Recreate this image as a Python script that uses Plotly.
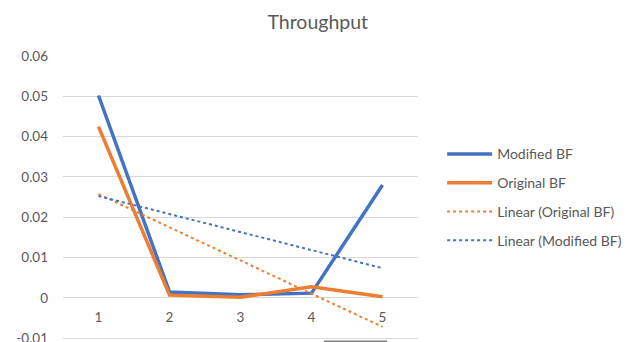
import numpy as np
import plotly.graph_objects as go

categories = [1, 2, 3, 4, 5]
modified_bf = [0.0502, 0.0015, 0.0008, 0.0012, 0.0280]
original_bf = [0.0425, 0.0007, 0.0002, 0.0028, 0.0003]
y_ticks = [-0.01, 0, 0.01, 0.02, 0.03, 0.04, 0.05, 0.06]
y_tick_labels = ["-0.01", "0", "0.01", "0.02", "0.03", "0.04", "0.05", "0.06"]

BLUE = "#4472C4"
ORANGE = "#ED7D31"
TXT = "#595959"
FONT = "Lato"

x = np.array(categories, dtype=float)
def trend(y):
    m, b = np.polyfit(x, np.array(y), 1)
    return (m * x + b).tolist()

fig = go.Figure()
fig.add_trace(go.Scatter(x=categories, y=modified_bf, mode="lines", name="Modified BF",
                         line=dict(color=BLUE, width=3.5), legendgroup="a"))
fig.add_trace(go.Scatter(x=categories, y=original_bf, mode="lines", name="Original BF",
                         line=dict(color=ORANGE, width=3.5), legendgroup="b"))
fig.add_trace(go.Scatter(x=categories, y=trend(original_bf), mode="lines", name="Linear (Original BF)",
                         line=dict(color=ORANGE, width=2, dash="dot"), legendgroup="c"))
fig.add_trace(go.Scatter(x=categories, y=trend(modified_bf), mode="lines", name="Linear (Modified BF)",
                         line=dict(color=BLUE, width=2, dash="dot"), legendgroup="d"))

ymin, ymax = -0.0129, 0.06
zero_pos = (0 - ymin) / (ymax - ymin)

fig.update_layout(
    width=644, height=342,
    margin=dict(l=55, r=234, t=47.6, b=0, autoexpand=False),
    paper_bgcolor="white", plot_bgcolor="white",
    font=dict(family=FONT, color=TXT, size=13),
    title=dict(text="Throughput", x=0.481, xanchor="center", y=0.959, yanchor="middle",
               font=dict(family=FONT, size=19.5, color=TXT)),
    xaxis=dict(range=[0.5, 5.5], tickvals=categories, ticktext=[str(c) for c in categories],
               showgrid=False, zeroline=False, showline=False, anchor="free", position=zero_pos,
               ticklabelstandoff=10, tickfont=dict(size=13.5, color=TXT)),
    yaxis=dict(range=[ymin, ymax], tickvals=y_ticks, ticktext=y_tick_labels,
               showgrid=True, gridcolor="#D9D9D9", gridwidth=1, zeroline=True,
               zerolinecolor="#D9D9D9", zerolinewidth=1, showline=False,
               ticklabelstandoff=14, tickfont=dict(size=13.5, color=TXT)),
    legend=dict(x=1.068, y=0.72, xanchor="left", yanchor="top", tracegroupgap=7.6,
                font=dict(size=14, color=TXT), itemwidth=45, bgcolor="rgba(0,0,0,0)"),
    showlegend=True,
)
fig.add_shape(type="line", xref="paper", yref="paper", x0=0.735, x1=0.913, y0=0.03, y1=0.03,
              line=dict(color="#7F7F7F", width=1.5))

fig.write_html("out.html")
